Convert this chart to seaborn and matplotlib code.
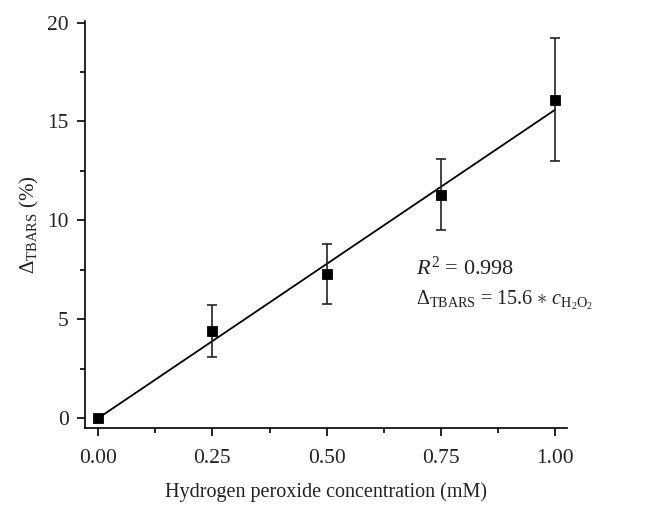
import numpy as np
import pandas as pd
import matplotlib
matplotlib.use("Agg")
import matplotlib.pyplot as plt
import seaborn as sns
from matplotlib.ticker import MultipleLocator

conc = [0.0, 0.25, 0.50, 0.75, 1.00]
delta = [0.0, 4.4, 7.3, 11.3, 16.1]
err = [0.0, 1.3, 1.5, 1.8, 3.1]
slope = 15.6
fit_x = [0.0, 1.0]
xticks = [0.00, 0.25, 0.50, 0.75, 1.00]
xticklabels = ["0.00", "0.25", "0.50", "0.75", "1.00"]
yticks = [0, 5, 10, 15, 20]

sns.set_theme(style="ticks")
plt.rcParams['font.family'] = ['Liberation Serif', 'DejaVu Serif']
plt.rcParams['mathtext.fontset'] = 'custom'
plt.rcParams['mathtext.rm'] = 'Liberation Serif'
plt.rcParams['mathtext.it'] = 'Liberation Serif:italic'
plt.rcParams['mathtext.bf'] = 'Liberation Serif:bold'

fig = plt.figure(figsize=(6.46, 5.14), dpi=100)
ax = fig.add_axes([0.132, 0.167, 0.746, 0.793])

df = pd.DataFrame({"conc": conc, "delta": delta, "err": err})
fit_df = pd.DataFrame({"x": fit_x, "y": [slope * v for v in fit_x]})

sns.lineplot(data=fit_df, x="x", y="y", ax=ax, color="black", linewidth=1.3)
ax.errorbar(df["conc"], df["delta"], yerr=df["err"], fmt="none", ecolor="#222222",
            elinewidth=1.2, capsize=3.5, capthick=1.2)
sns.scatterplot(data=df, x="conc", y="delta", ax=ax, marker="s", s=55, color="black",
                edgecolor="black", zorder=5)

ax.set_xlim(-0.028, 1.026)
ax.set_ylim(-0.5, 20.1)
ax.set_xticks(xticks)
ax.set_xticklabels(xticklabels)
ax.set_yticks(yticks)
ax.xaxis.set_minor_locator(MultipleLocator(0.125))
ax.yaxis.set_minor_locator(MultipleLocator(2.5))
ax.tick_params(axis="x", which="major", pad=9)
ax.tick_params(axis="y", which="major", pad=6)
ax.tick_params(axis="both", which="major", direction="out", length=6, width=1.2,
               labelsize=15.5, color="black", labelcolor="#222222")
ax.tick_params(axis="both", which="minor", direction="out", length=3.5, width=1.2, color="black")
for s in ["top", "right"]:
    ax.spines[s].set_visible(False)
for s in ["left", "bottom"]:
    ax.spines[s].set_color("black")
    ax.spines[s].set_linewidth(1.2)

ax.set_xlabel("Hydrogen peroxide concentration (mM)", fontsize=14.5, color="#222222", labelpad=10)
ax.set_ylabel(r"$\Delta_{\mathrm{TBARS}}$ (%)", fontsize=15, color="#222222", labelpad=4)

ax.text(0.695, 7.6, r"$R^2$ = 0.998", fontsize=16, color="#222222", va="center")
ax.text(0.695, 5.95, r"$\Delta_{\mathrm{TBARS}}$ = 15.6 $\ast$ $c_{\mathrm{H_2O_2}}$",
        fontsize=14.5, color="#222222", va="center")

fig.savefig("out.png", dpi=100, facecolor="white")
